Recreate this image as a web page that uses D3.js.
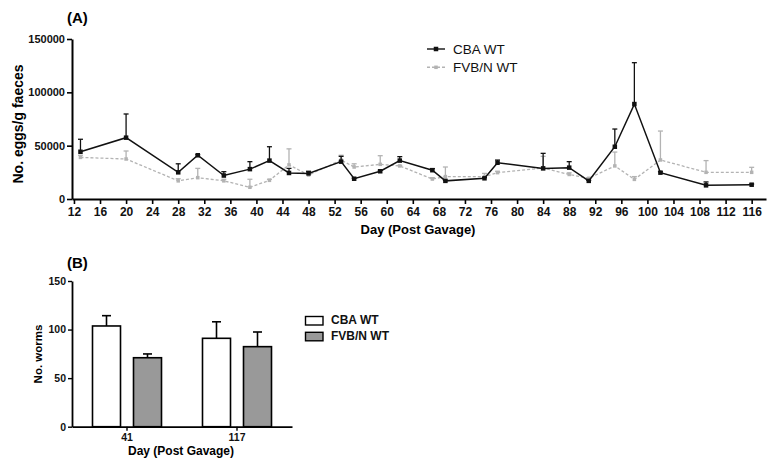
<!DOCTYPE html>
<html><head><meta charset="utf-8">
<script src="https://cdn.jsdelivr.net/npm/d3@7"></script>
<style>
body{margin:0;background:#fff;}
svg{display:block;font-family:"Liberation Sans",Arial,sans-serif;}
</style></head>
<body><svg id="c" width="772" height="462"></svg>
<script>
// ---- Panel A data ----
const cbaDays = [13,20,28,31,35,39,42,45,48,53,55,59,62,67,69,75,77,84,88,91,95,98,102,109,116];
const cbaEggs = [44300,57500,25000,41000,22000,28000,36000,24400,24000,35000,19000,26000,36000,27000,17000,19400,34000,28700,29400,17000,49000,89000,24700,12800,13400];
const cbaErr  = [56000,79700,33000,41500,25600,35000,49000,28700,26000,40000,19500,27000,39700,28500,17500,20000,36500,42800,35000,17500,65600,127800,25500,16000,14000];
const fvbDays = [13,20,28,31,35,39,42,45,48,53,55,59,62,67,69,75,77,84,88,91,95,98,102,109,116];
const fvbEggs = [39000,37500,17000,20000,17000,11000,17500,32000,22500,36500,30000,32500,31000,18700,21000,21000,24700,29000,23000,19400,31000,18400,36600,25000,25000];
const fvbErr  = [41000,45000,19000,28700,18500,18500,18500,47000,25000,41000,33000,40600,31500,20000,30000,24000,26000,40000,24500,20000,44000,21000,63700,36000,29700];
const xTicksA = d3.range(12,117,4);
const yTicksA = [0,50000,100000,150000];

// ---- Panel B data ----
const daysB = ["41","117"];
const seriesB = ["CBA WT","FVB/N WT"];
const wormsCBA = [103.7,91];
const wormsCBAErr = [114.3,108];
const wormsFVB = [71,82.4];
const wormsFVBErr = [74.9,97.5];
const yTicksB = [0,50,100,150];

const svg = d3.select("#c");

// ================= Panel A =================
const xA = d3.scaleLinear().domain([11.7,118.2]).range([72,766]);
const yA = d3.scaleLinear().domain([0,150000]).range([199,39]);
const gA = svg.append("g");

const axA = gA.append("g").attr("transform","translate(0,199)")
  .call(d3.axisBottom(xA).tickValues(xTicksA).tickSize(5).tickSizeOuter(0).tickPadding(3));
const ayA = gA.append("g").attr("transform","translate(72,0)")
  .call(d3.axisLeft(yA).tickValues(yTicksA).tickFormat(d3.format("d")).tickSize(5).tickSizeOuter(0).tickPadding(2));
[axA,ayA].forEach(a=>{
  a.selectAll("path").attr("stroke","#000").attr("stroke-width",2);
  a.selectAll("line").attr("stroke","#000").attr("stroke-width",1.6);
  a.selectAll("text").attr("fill","#111").style("font-weight","bold");
});
axA.selectAll("text").style("font-size","12px");
ayA.selectAll("text").style("font-size","11px");

gA.append("text").attr("x",67).attr("y",23).text("(A)")
  .style("font-size","15px").style("font-weight","bold");
gA.append("text").attr("transform","translate(23,124) rotate(-90)").attr("text-anchor","middle")
  .text("No. eggs/g faeces").style("font-size","14px").style("font-weight","bold");
gA.append("text").attr("x",418).attr("y",234).attr("text-anchor","middle")
  .text("Day (Post Gavage)").style("font-size","13px").style("font-weight","bold");

function drawSeries(days, vals, errs, color, dash, stroke, msize){
  const pts = days.map((d,i)=>({d, v:vals[i], e:errs[i]}));
  const g = gA.append("g");
  g.selectAll("line.err").data(pts).join("line")
    .attr("x1",p=>xA(p.d)).attr("x2",p=>xA(p.d))
    .attr("y1",p=>yA(p.v)).attr("y2",p=>yA(p.e))
    .attr("stroke",color).attr("stroke-width",1.3);
  g.selectAll("line.cap").data(pts.filter(p=>p.e>p.v+300)).join("line")
    .attr("x1",p=>xA(p.d)-2.5).attr("x2",p=>xA(p.d)+2.5)
    .attr("y1",p=>yA(p.e)).attr("y2",p=>yA(p.e))
    .attr("stroke",color).attr("stroke-width",1.3);
  g.append("path").datum(pts)
    .attr("d", d3.line().x(p=>xA(p.d)).y(p=>yA(p.v)))
    .attr("fill","none").attr("stroke",color).attr("stroke-width",stroke)
    .attr("stroke-dasharray",dash);
  g.selectAll("rect").data(pts).join("rect")
    .attr("x",p=>xA(p.d)-msize/2).attr("y",p=>yA(p.v)-msize/2)
    .attr("width",msize).attr("height",msize).attr("fill",color);
}
drawSeries(fvbDays,fvbEggs,fvbErr,"#b3b3b3","3,2",1.3,3.5);
drawSeries(cbaDays,cbaEggs,cbaErr,"#111",null,1.5,4.5);

// legend A
const legA = gA.append("g");
[["CBA WT","#111",null,4.5],["FVB/N WT","#b3b3b3","3,2",3.5]].forEach((s,i)=>{
  const y = 49 + i*18.3;
  legA.append("line").attr("x1",427).attr("x2",445).attr("y1",y).attr("y2",y)
    .attr("stroke",s[1]).attr("stroke-width",1.4).attr("stroke-dasharray",s[2]);
  legA.append("rect").attr("x",436-s[3]/2).attr("y",y-s[3]/2).attr("width",s[3]).attr("height",s[3]).attr("fill",s[1]);
  legA.append("text").attr("x",453).attr("y",y+5).text(s[0]).style("font-size","13.5px").attr("fill","#111");
});

// ================= Panel B =================
const yB = d3.scaleLinear().domain([0,150]).range([426.7,281]);
const xB = d3.scaleBand().domain(daysB).range([72,292]).padding(0);
const xInner = d3.scaleBand().domain(seriesB).range([20.5,89.5]).paddingInner(0.317).paddingOuter(0);
const gB = svg.append("g");

const valsB = {"CBA WT":[wormsCBA,wormsCBAErr,"#fff"],"FVB/N WT":[wormsFVB,wormsFVBErr,"#999"]};
const barData = [];
daysB.forEach((d,i)=>seriesB.forEach(s=>barData.push({d,s,v:valsB[s][0][i],e:valsB[s][1][i],c:valsB[s][2]})));

gB.selectAll("line.err").data(barData).join("line")
  .attr("x1",b=>xB(b.d)+xInner(b.s)+xInner.bandwidth()/2)
  .attr("x2",b=>xB(b.d)+xInner(b.s)+xInner.bandwidth()/2)
  .attr("y1",b=>yB(b.v)).attr("y2",b=>yB(b.e)).attr("stroke","#000").attr("stroke-width",1.6);
gB.selectAll("line.cap").data(barData).join("line")
  .attr("x1",b=>xB(b.d)+xInner(b.s)+xInner.bandwidth()/2-4.5)
  .attr("x2",b=>xB(b.d)+xInner(b.s)+xInner.bandwidth()/2+4.5)
  .attr("y1",b=>yB(b.e)).attr("y2",b=>yB(b.e)).attr("stroke","#000").attr("stroke-width",1.6);
gB.selectAll("rect.bar").data(barData).join("rect")
  .attr("x",b=>xB(b.d)+xInner(b.s)).attr("width",xInner.bandwidth())
  .attr("y",b=>yB(b.v)).attr("height",b=>yB(0)-yB(b.v))
  .attr("fill",b=>b.c).attr("stroke","#000").attr("stroke-width",1.6);

const axB = gB.append("g").attr("transform","translate(0,426.7)")
  .call(d3.axisBottom(xB).tickSize(4).tickSizeOuter(0).tickPadding(3));
const ayB = gB.append("g").attr("transform","translate(72,0)")
  .call(d3.axisLeft(yB).tickValues(yTicksB).tickSize(4).tickSizeOuter(0).tickPadding(2));
[axB,ayB].forEach(a=>{
  a.selectAll("path").attr("stroke","#000").attr("stroke-width",1.8);
  a.selectAll("line").attr("stroke","#000").attr("stroke-width",1.4);
  a.selectAll("text").attr("fill","#111").style("font-size","10.5px").style("font-weight","bold");
});

gB.append("text").attr("x",67).attr("y",268).text("(B)")
  .style("font-size","15px").style("font-weight","bold");
gB.append("text").attr("transform","translate(42,354) rotate(-90)").attr("text-anchor","middle")
  .text("No. worms").style("font-size","11.5px").style("font-weight","bold");
gB.append("text").attr("x",181).attr("y",455).attr("text-anchor","middle")
  .text("Day (Post Gavage)").style("font-size","12px").style("font-weight","bold");

seriesB.forEach((s,i)=>{
  const y = 316.5 + i*15.8;
  gB.append("rect").attr("x",305.5).attr("y",y).attr("width",17.5).attr("height",8.5)
    .attr("fill",valsB[s][2]).attr("stroke","#000").attr("stroke-width",1.4);
  gB.append("text").attr("x",331).attr("y",y+7.5).text(s)
    .style("font-size","12px").style("font-weight","bold").attr("fill","#111");
});
</script></body></html>
